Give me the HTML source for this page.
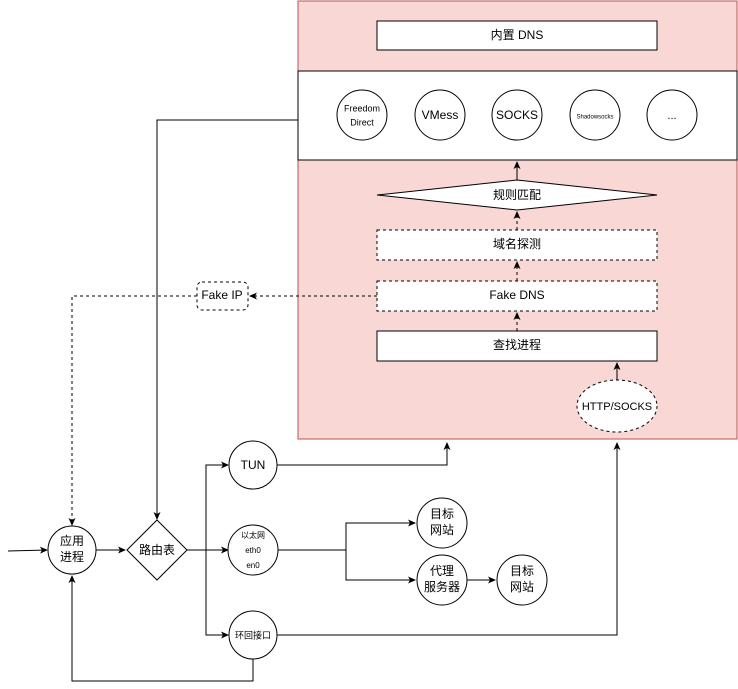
<!DOCTYPE html>
<html><head><meta charset="utf-8"><style>body{margin:0;background:#fff}svg{display:block}text{font-family:"Liberation Sans","Noto Sans CJK SC",sans-serif;fill:#000;text-anchor:middle;dominant-baseline:middle}</style></head><body>
<svg width="738" height="689" viewBox="0 0 738 689">
<defs><marker id="a" markerWidth="8" markerHeight="8" refX="7" refY="4" orient="auto" markerUnits="userSpaceOnUse"><path d="M0,0.5 L8,4 L0,7.5 L2,4 Z" fill="#000"/></marker></defs>
<rect x="298" y="1" width="439" height="438" fill="#f8d7d4" stroke="#b85450"/>
<rect x="298" y="71" width="439" height="89" fill="#fff" stroke="#000"/>
<rect x="377" y="21" width="280" height="29" fill="#fff" stroke="#000"/>
<text x="517" y="36" font-size="12">内置 DNS</text>
<g fill="#fff" stroke="#000"><circle cx="362" cy="115" r="25"/><circle cx="440" cy="115" r="25"/><circle cx="517" cy="115" r="25"/><circle cx="595" cy="115" r="25"/><circle cx="672" cy="115" r="25"/></g>
<text x="362" y="109" font-size="9">Freedom</text><text x="362" y="123" font-size="9">Direct</text>
<text x="440" y="116" font-size="12">VMess</text><text x="517" y="116" font-size="12">SOCKS</text>
<text x="595" y="117" font-size="6">Shadowsocks</text><text x="672" y="116" font-size="11">...</text>
<polygon points="377,195 517,180 657,195 517,210" fill="#fff" stroke="#000"/>
<text x="517" y="196" font-size="12">规则匹配</text>
<rect x="377" y="230" width="280" height="30" fill="#fff" stroke="#000" stroke-dasharray="3,3"/>
<text x="517" y="245" font-size="12">域名探测</text>
<rect x="377" y="281" width="280" height="30" fill="#fff" stroke="#000" stroke-dasharray="3,3"/>
<text x="517" y="296" font-size="12">Fake DNS</text>
<rect x="377" y="331" width="280" height="30" fill="#fff" stroke="#000"/>
<text x="517" y="346" font-size="12">查找进程</text>
<ellipse cx="617" cy="406" rx="40" ry="26" fill="#fff" stroke="#000" stroke-dasharray="3,3"/>
<text x="617" y="407" font-size="11">HTTP/SOCKS</text>
<rect x="197" y="282" width="51" height="28" rx="5" fill="#fff" stroke="#000" stroke-dasharray="3,3"/>
<text x="222" y="296" font-size="12">Fake IP</text>
<g fill="none" stroke="#000">
<path d="M517 180V162" marker-end="url(#a)"/>
<path d="M517 230V212" stroke-dasharray="3,3" marker-end="url(#a)"/>
<path d="M517 281V262" stroke-dasharray="3,3" marker-end="url(#a)"/>
<path d="M517 331V313" stroke-dasharray="3,3" marker-end="url(#a)"/>
<path d="M617 380V363" marker-end="url(#a)"/>
<path d="M377 296H250" stroke-dasharray="3,3" marker-end="url(#a)"/>
<path d="M197 296H72V525" stroke-dasharray="3,3" marker-end="url(#a)"/>
<path d="M298 120H157V519" marker-end="url(#a)"/>
<path d="M8 551L47 550" marker-end="url(#a)"/>
<path d="M95 550H125" marker-end="url(#a)"/>
<path d="M187 550H228" marker-end="url(#a)"/>
<path d="M206 550V465H228" marker-end="url(#a)"/>
<path d="M206 550V635H228" marker-end="url(#a)"/>
<path d="M276 465H447V443" marker-end="url(#a)"/>
<path d="M276 635H617V443" marker-end="url(#a)"/>
<path d="M278 550H346"/>
<path d="M346 550V523H415" marker-end="url(#a)"/>
<path d="M346 550V580H415" marker-end="url(#a)"/>
<path d="M467 580H495" marker-end="url(#a)"/>
<path d="M253 658V681H72V576" marker-end="url(#a)"/>
</g>
<g fill="#fff" stroke="#000">
<circle cx="72" cy="550" r="24"/><polygon points="157,520 187,550 157,580 127,550"/>
<circle cx="253" cy="465" r="24"/><circle cx="253" cy="550" r="25"/><circle cx="253" cy="635" r="24"/>
<circle cx="442" cy="523" r="25"/><circle cx="442" cy="580" r="25"/><circle cx="522" cy="580" r="25"/>
</g>
<text x="72" y="542" font-size="12">应用</text><text x="72" y="558" font-size="12">进程</text>
<text x="157" y="551" font-size="12">路由表</text>
<text x="253" y="466" font-size="12">TUN</text>
<text x="253" y="536" font-size="8">以太网</text><text x="253" y="551" font-size="8">eth0</text><text x="253" y="566" font-size="8">en0</text>
<text x="253" y="636" font-size="9">环回接口</text>
<text x="442" y="515" font-size="12">目标</text><text x="442" y="531" font-size="12">网站</text>
<text x="442" y="572" font-size="12">代理</text><text x="442" y="588" font-size="12">服务器</text>
<text x="522" y="572" font-size="12">目标</text><text x="522" y="588" font-size="12">网站</text>
</svg>
</body></html>
